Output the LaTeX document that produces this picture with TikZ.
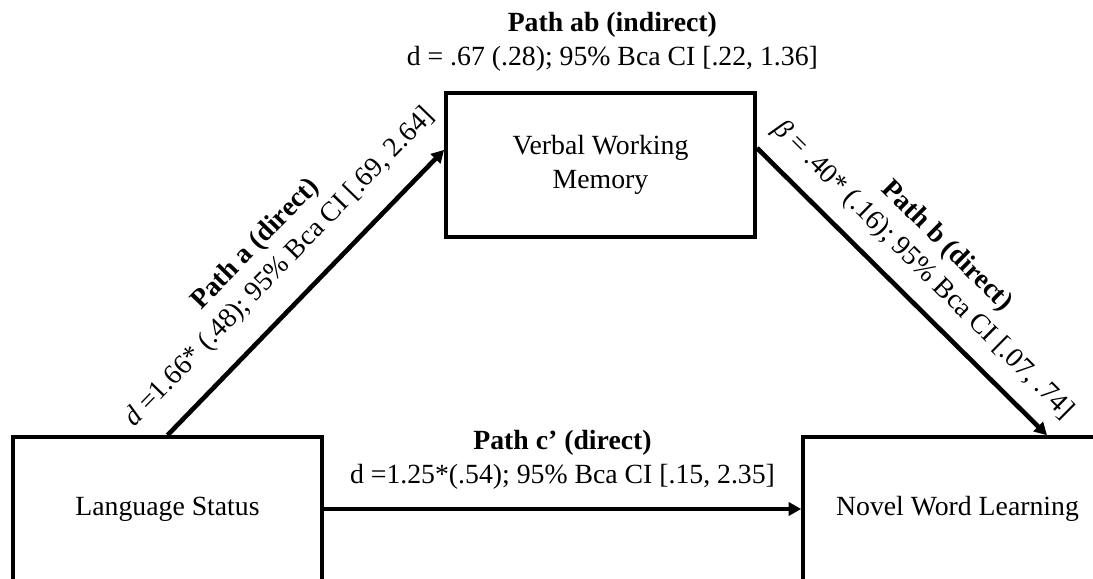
\documentclass[tikz,border=0pt]{standalone}
\usepackage{fontspec}
\setmainfont{Liberation Serif}
\usetikzlibrary{positioning,arrows.meta}

\tikzset{
   varbox/.style = {draw, line width=1.5pt, minimum width=4.7cm, minimum height=2.19cm, align=center, inner sep=0pt},
   patharrow/.style = {line width=2pt, -{Triangle[length=0.19cm,width=0.2cm]}},
   pathlabel/.style = {align=center, inner sep=0pt}
}

\begin{document}
\begin{tikzpicture}[x=0.0152cm, y=-0.0152cm, font=\fontsize{12}{14.4}\selectfont]
   \useasboundingbox (0,0) rectangle (1093,578);
   \clip (0,0) rectangle (1093,578);
   \node[varbox] (vwm) at (600.5,165) {Verbal Working\\Memory};
   \node[varbox] (lang) at (167.5,509) {Language Status};
   \node[varbox] (novel) at (957.5,509) {Novel Word Learning};
   \node[pathlabel, above=0.3cm of vwm, xshift=0.18cm] (ab)
      {\textbf{Path ab (indirect)}\\d = .67 (.28); 95\% Bca CI [.22, 1.36]};
   \draw[patharrow] (lang.north) -- node[pathlabel, sloped, above=0.32cm] (a)
      {\textbf{Path a (direct)}\\\textit{d} =1.66* (.48); 95\% Bca CI [.69, 2.64]} ([yshift=0.23cm]vwm.west);
   \draw[patharrow] ([yshift=0.26cm]vwm.east) -- node[pathlabel, sloped, above=0.23cm] (b)
      {\textbf{Path b (direct)}\\\textit{β} = .40* (.16); 95\% Bca CI [.07, .74]} ([xshift=1.36cm]novel.north);
   \draw[patharrow] (lang.east) -- node[pathlabel, above=0.27cm] (c)
      {\textbf{Path c’ (direct)}\\d =1.25*(.54); 95\% Bca CI [.15, 2.35]} (novel.west);
\end{tikzpicture}
\end{document}
